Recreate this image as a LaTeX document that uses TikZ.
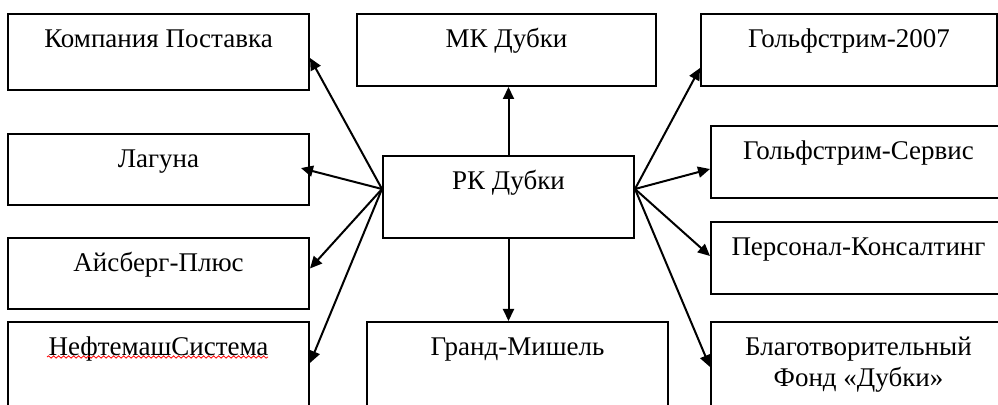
\documentclass[tikz,border=0pt]{standalone}
\usepackage{fontspec}
\setmainfont{Liberation Serif}
\usetikzlibrary{arrows.meta,decorations.pathmorphing}

\begin{document}
\begin{tikzpicture}[x=0.5pt, y=-0.5pt,
    firm/.style={draw, line width=1pt, inner sep=0pt, anchor=north,
        text height=17pt, font=\fontsize{13.5}{15.5}\selectfont},
    link/.style={line width=1pt, -{Triangle[length=6pt, width=5.5pt]}}]
\useasboundingbox (0, 0) rectangle (998, 405);

% left column
\node[firm, minimum width=150.5pt, text depth=21pt] (komp) at (158.5, 13) {Компания Поставка};
\node[firm, minimum width=150.5pt, text depth=18.5pt] (lag) at (158.5, 133) {Лагуна};
\node[firm, minimum width=150.5pt, text depth=18.5pt] (ais) at (158.5, 237) {Айсберг-Плюс};
\node[firm, minimum width=150.5pt, text depth=33pt] (neft) at (158.5, 321) {НефтемашСистема};

% middle column
\node[firm, minimum width=149.5pt, text depth=19pt] (mk) at (506.5, 13) {МК Дубки};
\node[firm, minimum width=125.5pt, text depth=24pt] (rk) at (508.5, 155) {РК Дубки};
\node[firm, minimum width=150.5pt, text depth=33pt] (grand) at (517.5, 321) {Гранд-Мишель};

% right column
\node[firm, minimum width=148pt, text depth=19pt] (golf) at (849, 13) {Гольфстрим-2007};
\node[firm, minimum width=147.5pt, text depth=19pt] (serv) at (858.5, 125) {Гольфстрим-Сервис};
\node[firm, minimum width=147.5pt, text depth=19pt] (pers) at (858.5, 221) {Персонал-Консалтинг};
\node[firm, minimum width=147.5pt, text height=32.5pt, text depth=17.5pt, align=center]
    (blag) at (858.5, 321) {Благотворительный\\Фонд «Дубки»};

% spell-check underline
\draw[red, line width=0.4pt, decoration={snake, amplitude=0.6pt, segment length=2.5pt},
    decorate] (47, 357) -- (268, 357);

\coordinate (rkL) at ([yshift=4pt]rk.west);
\coordinate (rkR) at ([yshift=4pt]rk.east);

\draw[link] (rkL) -- ([yshift=-3pt]komp.east);
\draw[link] (rkL) -- ([xshift=-4.5pt, yshift=0.7pt]lag.east);
\draw[link] (rkL) -- ([yshift=2.5pt]ais.east);
\draw[link] (rkL) -- ([yshift=-21pt]neft.north east);

\draw[link] (rk.north) -- (rk.north |- mk.south);
\draw[link] (rk.south) -- (rk.south |- grand.north);

\draw[link] (rkR) -- ([yshift=-9pt]golf.west);
\draw[link] (rkR) -- ([yshift=-3.5pt]serv.west);
\draw[link] (rkR) -- ([yshift=1pt]pers.west);
\draw[link] (rkR) -- ([yshift=-23pt]blag.north west);

\end{tikzpicture}
\end{document}
